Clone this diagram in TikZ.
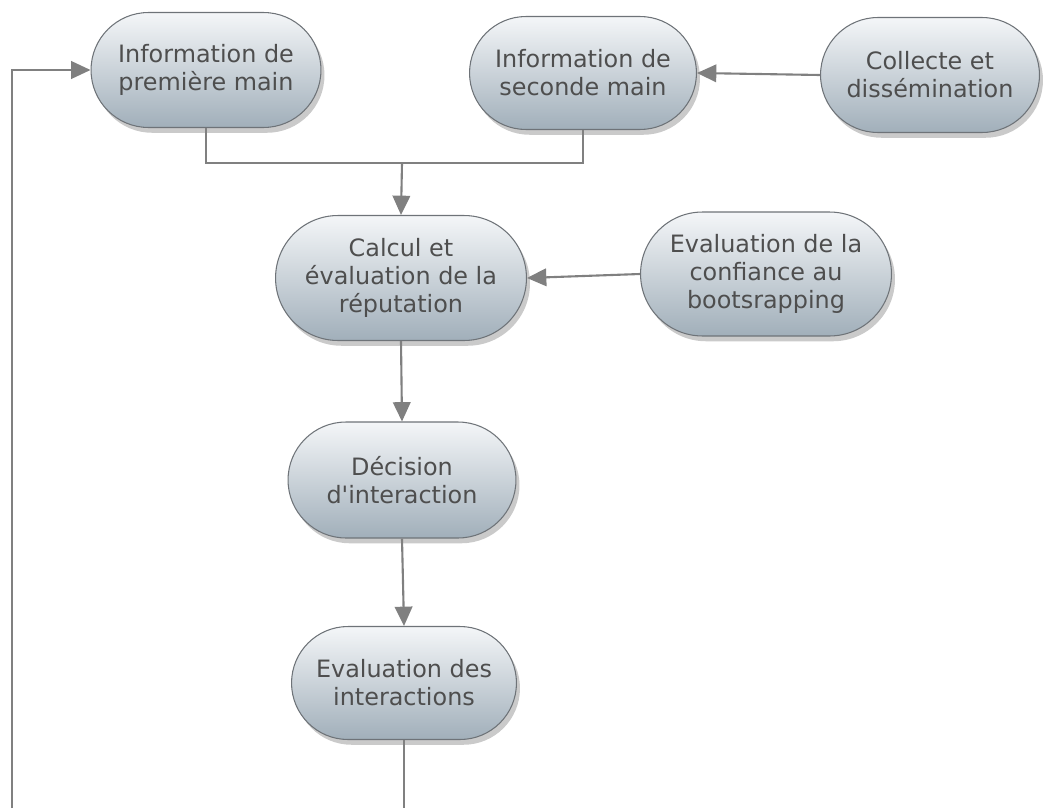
\documentclass[tikz,border=0pt]{standalone}
\usepackage{fontspec}
\setmainfont{DejaVu Sans}
\usetikzlibrary{arrows.meta,shapes.misc,shadows}

\definecolor{bordgris}{HTML}{6E7378}
\definecolor{hautbleu}{HTML}{F4F6F8}
\definecolor{basbleu}{HTML}{A1AFBA}
\definecolor{traitgris}{HTML}{808080}
\definecolor{textegris}{HTML}{4E4E4E}

\begin{document}
\begin{tikzpicture}[
  x=0.02cm, y=-0.02cm,
  etape/.style={rounded rectangle, draw=bordgris, line width=0.6pt,
    top color=hautbleu, bottom color=basbleu, align=center,
    text=textegris, font=\fontsize{13.6}{16}\selectfont, inner sep=2pt,
    drop shadow={shadow xshift=2pt, shadow yshift=-3pt, opacity=0.35,
      fill=black!60}},
  lien/.style={line width=1.2pt, traitgris},
  fleche/.style={lien, -{Triangle[length=11pt, width=10pt]}}
]
\useasboundingbox (0,0) rectangle (1051,808);

% Noeuds
\node[etape, minimum width=4.74cm, minimum height=2.3cm] (premiere) at (206,70)
  {Information de\\première main};
\node[etape, minimum width=4.68cm, minimum height=2.26cm] (seconde) at (583,73)
  {Information de\\seconde main};
\node[etape, minimum width=4.52cm, minimum height=2.3cm] (collecte) at (930,75)
  {Collecte et\\dissémination};
\node[etape, minimum width=5.16cm, minimum height=2.5cm] (calcul) at (401,278)
  {Calcul et\\évaluation de la\\réputation};
\node[etape, minimum width=5.16cm, minimum height=2.48cm] (confiance) at (766,274)
  {Evaluation de la\\confiance au\\bootsrapping};
\node[etape, minimum width=4.7cm, minimum height=2.32cm] (decision) at (402,480)
  {Décision\\d\textquotesingle interaction};
\node[etape, minimum width=4.64cm, minimum height=2.26cm] (evalint) at (404,683)
  {Evaluation des\\interactions};

\coordinate (jonction) at (402,163);
\coordinate (basgauche) at (12,808);
\coordinate (basdroite) at (404,808);

% Liens
\draw[fleche] (collecte.west) -- (seconde.east);
\draw[lien] (premiere.south) |- (jonction);
\draw[lien] (seconde.south) |- (jonction);
\draw[fleche] (jonction) -- (calcul.north);
\draw[fleche] (confiance.west) -- (calcul.east);
\draw[fleche] (calcul.south) -- (decision.north);
\draw[fleche] (decision.south) -- (evalint.north);
\draw[lien] (evalint.south) -- (basdroite);
\draw[fleche] (basgauche) |- (premiere.west);
\end{tikzpicture}
\end{document}
